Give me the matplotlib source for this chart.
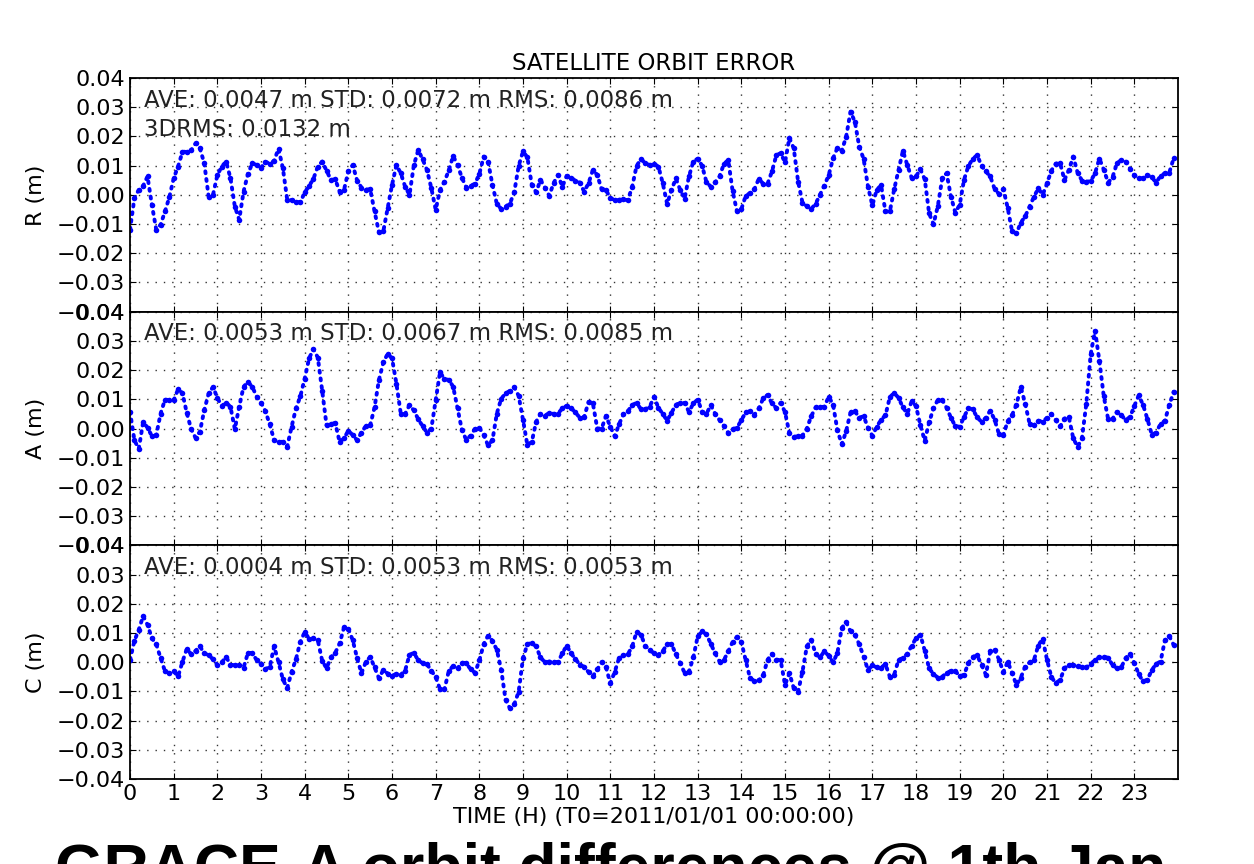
import numpy as np
import matplotlib
matplotlib.use('Agg')
import matplotlib.pyplot as plt

# orbit error components (m), sampled every 0.1 h from T0
r_err = [
    -0.0119, -0.0011, 0.0017, 0.0031, 0.0063, -0.0034, -0.0119, -0.0102, -0.0057, -0.0008,
    0.0057, 0.0097, 0.0147, 0.0148, 0.0153, 0.0176, 0.0159, 0.0108, -0.0006, 0.0,
    0.0068, 0.0097, 0.0114, 0.0057, -0.004, -0.0085, 0.0011, 0.0072, 0.0108, 0.0102,
    0.0093, 0.0113, 0.0107, 0.0117, 0.0158, 0.0091, -0.0017, -0.0018, -0.0023, -0.0026,
    0.0009, 0.003, 0.0055, 0.0097, 0.0114, 0.0083, 0.0051, 0.0053, 0.0011, 0.0017,
    0.0081, 0.0102, 0.0049, 0.0025, 0.0018, 0.0019, -0.0057, -0.0128, -0.0125, -0.0045,
    0.0034, 0.0102, 0.0074, 0.0028, 0.0, 0.0102, 0.0153, 0.0122, 0.0085, 0.0023,
    -0.0051, 0.0017, 0.0045, 0.0084, 0.0133, 0.0102, 0.0059, 0.0025, 0.0031, 0.0038,
    0.0072, 0.0131, 0.0113, 0.0034, -0.0031, -0.0048, -0.004, -0.003, 0.001, 0.0099,
    0.0149, 0.0128, 0.0035, 0.0009, 0.0051, 0.0025, -0.0003, 0.004, 0.0068, 0.0028,
    0.0065, 0.0058, 0.0049, 0.0042, 0.0011, 0.004, 0.0085, 0.0068, 0.0019, 0.0016,
    -0.0011, -0.0018, -0.0017, -0.0015, -0.0019, 0.0028, 0.0099, 0.0122, 0.0109, 0.0102,
    0.0106, 0.0097, 0.004, -0.0031, 0.0017, 0.0056, 0.0017, -0.0013, 0.0063, 0.0114,
    0.0124, 0.01, 0.0044, 0.0028, 0.0043, 0.0063, 0.0106, 0.0119, 0.0013, -0.0057,
    -0.0049, -0.0003, 0.0006, 0.002, 0.0055, 0.0038, 0.0038, 0.008, 0.0135, 0.0143,
    0.0111, 0.0195, 0.0159, 0.0045, -0.0027, -0.0039, -0.0048, -0.0031, 0.0, 0.0032,
    0.0067, 0.0125, 0.0161, 0.0151, 0.0199, 0.0285, 0.025, 0.0165, 0.0123, 0.0028,
    -0.0036, 0.0017, 0.0033, -0.0057, -0.0057, 0.0019, 0.0085, 0.0151, 0.0102, 0.0058,
    0.0063, 0.0088, 0.0053, -0.0063, -0.0101, -0.0038, 0.0056, 0.0074, -0.0006, -0.0061,
    -0.0034, 0.0052, 0.0099, 0.0123, 0.0136, 0.01, 0.008, 0.0063, 0.002, 0.0003,
    0.002, -0.0045, -0.0125, -0.0132, -0.0095, -0.0074, -0.004, -0.0007, 0.0022, 0.0,
    0.0039, 0.0083, 0.0107, 0.0108, 0.0051, 0.0085, 0.0131, 0.0076, 0.0049, 0.0045,
    0.0047, 0.0074, 0.0124, 0.0086, 0.0042, 0.006, 0.0108, 0.0119, 0.0114, 0.009,
    0.0067, 0.0056, 0.0057, 0.0068, 0.006, 0.0042, 0.0065, 0.0074, 0.0076, 0.0125,
]

a_err = [
    0.0057, -0.004, -0.007, 0.0022, 0.0003, -0.0026, -0.0023, 0.0051, 0.0099, 0.0097,
    0.0097, 0.0134, 0.0121, 0.0053, -0.0002, -0.0032, -0.0011, 0.0063, 0.012, 0.0142,
    0.0105, 0.0077, 0.0089, 0.0074, -0.0002, 0.0075, 0.0143, 0.0159, 0.0143, 0.0109,
    0.0089, 0.0059, 0.0014, -0.004, -0.0045, -0.0046, -0.0062, 0.0006, 0.0069, 0.011,
    0.0171, 0.024, 0.0272, 0.0243, 0.013, 0.0011, 0.0017, 0.0018, -0.0046, -0.0034,
    -0.0007, -0.0023, -0.004, -0.0014, 0.0009, 0.0011, 0.0073, 0.0166, 0.0226, 0.0256,
    0.024, 0.0154, 0.0051, 0.005, 0.008, 0.0062, 0.0032, 0.0008, -0.0014, 0.0,
    0.0096, 0.0194, 0.0168, 0.0167, 0.0143, 0.0069, -0.0005, -0.0039, -0.0024, -0.0001,
    0.0003, -0.0023, -0.0058, -0.004, 0.0051, 0.0102, 0.012, 0.0129, 0.0141, 0.0112,
    0.0029, -0.0057, -0.0046, 0.0023, 0.005, 0.0043, 0.0054, 0.005, 0.0051, 0.0069,
    0.0078, 0.007, 0.0055, 0.0037, 0.0039, 0.0091, 0.0086, 0.0, 0.0, 0.0043,
    0.0006, -0.0027, 0.0015, 0.0049, 0.0059, 0.008, 0.0088, 0.0066, 0.0066, 0.0074,
    0.0109, 0.0071, 0.005, 0.0027, 0.0054, 0.0081, 0.0088, 0.0087, 0.0057, 0.0086,
    0.0099, 0.0058, 0.005, 0.008, 0.005, 0.0029, 0.0009, -0.0016, -0.0002, 0.0002,
    0.0029, 0.0055, 0.0059, 0.0047, 0.0069, 0.0103, 0.0115, 0.0086, 0.007, 0.0088,
    0.0056, -0.0016, -0.0029, -0.0026, -0.0024, 0.0, 0.0042, 0.0072, 0.0074, 0.0074,
    0.0109, 0.0082, -0.0006, -0.0054, -0.0009, 0.0055, 0.0059, 0.0037, 0.0042, 0.0003,
    -0.0025, 0.0006, 0.003, 0.0045, 0.0107, 0.0122, 0.0105, 0.0072, 0.0051, 0.0093,
    0.0077, 0.0011, -0.0042, 0.0021, 0.0069, 0.0098, 0.0098, 0.0071, 0.0037, 0.0008,
    0.0006, 0.004, 0.0069, 0.0066, 0.0038, 0.0023, 0.0037, 0.0061, 0.003, -0.0019,
    -0.0022, 0.0025, 0.0046, 0.0082, 0.0142, 0.0085, 0.0017, 0.0011, 0.0027, 0.0023,
    0.0037, 0.005, 0.0029, 0.0007, 0.0034, 0.0039, -0.0033, -0.0063, -0.0034, 0.0085,
    0.0254, 0.0335, 0.0231, 0.011, 0.0032, 0.0033, 0.0057, 0.0046, 0.0029, 0.0039,
    0.0077, 0.0113, 0.0081, 0.0032, -0.0021, -0.0014, 0.0016, 0.0027, 0.008, 0.0126,
]

c_err = [
    0.0008, 0.0073, 0.0111, 0.0158, 0.0128, 0.0082, 0.0062, 0.0014, -0.0031, -0.0038,
    -0.0031, -0.0049, 0.0001, 0.0046, 0.0027, 0.0039, 0.0054, 0.003, 0.0024, 0.001,
    -0.001, -0.0001, 0.0018, -0.0009, -0.001, -0.001, -0.0019, 0.0032, 0.0031, 0.0007,
    -0.0006, -0.0024, -0.0016, 0.0054, 0.0, -0.0059, -0.0089, -0.0033, 0.001, 0.007,
    0.0103, 0.008, 0.0081, 0.0075, 0.0005, -0.0021, 0.0017, 0.0032, 0.0064, 0.0119,
    0.0114, 0.0075, 0.0014, -0.0038, 0.0001, 0.0018, -0.0018, -0.0055, -0.0027, -0.0039,
    -0.0047, -0.004, -0.0043, -0.0029, 0.0025, 0.0032, 0.0006, -0.0003, -0.0007, -0.0029,
    -0.0051, -0.0093, -0.0093, -0.003, -0.0013, -0.0021, -0.0002, -0.0003, -0.0025, -0.0037,
    0.0006, 0.0062, 0.0091, 0.0073, 0.0042, -0.0026, -0.0129, -0.0158, -0.0144, -0.0101,
    0.0014, 0.0062, 0.0065, 0.0054, 0.0016, 0.0, 0.0002, 0.0001, 0.0, 0.003,
    0.0057, 0.003, 0.0011, -0.0009, -0.0016, -0.0034, -0.0048, -0.0025, 0.0, -0.0018,
    -0.0072, -0.0033, 0.0014, 0.0024, 0.0027, 0.0054, 0.0103, 0.0094, 0.0056, 0.0041,
    0.0031, 0.0025, 0.0038, 0.0061, 0.0062, 0.0027, -0.0003, -0.0037, -0.0032, 0.0016,
    0.0088, 0.0105, 0.0095, 0.0063, 0.003, 0.0002, 0.0007, 0.0037, 0.0069, 0.0087,
    0.0069, 0.0006, -0.0055, -0.0064, -0.0062, -0.0045, 0.0008, 0.0029, 0.0009, 0.0006,
    -0.0078, -0.0038, -0.0089, -0.0101, -0.0032, 0.0054, 0.0077, 0.0029, 0.0016, 0.0037,
    0.0022, -0.0001, 0.0032, 0.0117, 0.0137, 0.0105, 0.0094, 0.0061, 0.0019, -0.0027,
    -0.0011, -0.0018, -0.0019, -0.0007, -0.005, -0.0043, 0.0008, 0.0014, 0.0029, 0.0056,
    0.0082, 0.0094, 0.0039, -0.0021, -0.0041, -0.0053, -0.005, -0.0037, -0.003, -0.003,
    -0.0049, -0.0043, -0.0003, 0.0018, 0.0023, -0.0009, -0.0043, 0.0037, 0.0043, 0.0009,
    -0.0034, 0.0002, -0.0038, -0.0078, -0.0053, -0.0015, -0.0001, 0.0007, 0.0057, 0.008,
    0.0008, -0.0051, -0.0072, -0.0061, -0.0021, -0.0009, -0.0009, -0.0014, -0.0015, -0.0018,
    -0.0007, 0.0008, 0.0018, 0.0018, 0.0015, -0.001, -0.0021, -0.0018, 0.0014, 0.0029,
    -0.0003, -0.0041, -0.0066, -0.006, -0.0027, -0.0006, 0.0002, 0.0075, 0.0089, 0.0059,
]

hours = np.arange(len(r_err)) * 0.1

labels = ['R (m)', 'A (m)', 'C (m)']
stats = [
    'AVE: 0.0047 m STD: 0.0072 m RMS: 0.0086 m\n3DRMS: 0.0132 m',
    'AVE: 0.0053 m STD: 0.0067 m RMS: 0.0085 m',
    'AVE: 0.0004 m STD: 0.0053 m RMS: 0.0053 m',
]

plt.rcParams['font.family'] = 'DejaVu Sans'
plt.rcParams['font.size'] = 16

fig, axes = plt.subplots(3, 1, figsize=(12.54, 8.64), dpi=100, sharex=True)
fig.subplots_adjust(left=0.1037, right=0.9394, top=0.9097, bottom=0.0984, hspace=0)

yt = np.round(np.arange(-0.04, 0.041, 0.01), 2)

for ax, series, lab, txt in zip(axes, [r_err, a_err, c_err], labels, stats):
    # dotted trace plus sample dots, looks like the dense dot series
    ax.plot(hours, series, color='blue', lw=2.8, linestyle=(0, (0.5, 1.5)),
            dash_capstyle='round')
    ax.plot(hours, series, 'o', color='blue', ms=4, mew=0)
    ax.set_xlim(0, 24)
    ax.set_ylim(-0.04, 0.04)
    ax.set_yticks(yt)
    ax.set_yticklabels(['%.2f' % v if v >= 0 else '\u2212%.2f' % -v for v in yt])
    ax.set_ylabel(lab, fontsize=16, labelpad=8)
    ax.grid(True, color='black', linestyle=(0, (1, 5)), linewidth=1, alpha=0.8)
    ax.tick_params(direction='in', length=4, top=True, right=True, labelsize=16)
    for sp in ax.spines.values():
        sp.set_linewidth(1.3)
    ax.text(0.013, 0.955, txt, transform=ax.transAxes, ha='left', va='top',
            fontsize=16.5, color='#222222', linespacing=1.35)

axes[-1].set_xticks(range(0, 24))
axes[-1].set_xlabel('TIME (H) (T0=2011/01/01 00:00:00)', fontsize=16, labelpad=2)
axes[0].set_title('SATELLITE ORBIT ERROR', fontsize=16.5, pad=6)

# slide caption below the chart, cut off by the screenshot edge
fig.text(55 / 1254, -0.028, 'GRACE-A orbit differences @ 1th Jan',
         fontsize=45, fontweight='bold', family='Liberation Sans', va='baseline')

fig.savefig('out.png', dpi=100)
